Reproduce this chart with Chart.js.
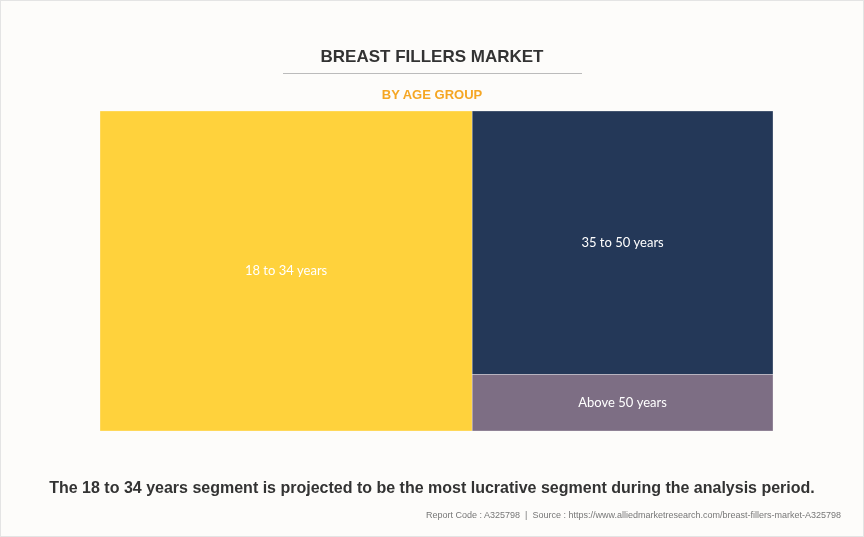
<!DOCTYPE html>
<html><head><meta charset="utf-8">
<script src="https://cdn.jsdelivr.net/npm/chart.js@4"></script>
<style>
html,body{margin:0;padding:0;background:#fff;}
#wrap{position:relative;width:862px;height:535px;border:1px solid #e4e4e4;background:#fdfcfa;overflow:hidden;font-family:"Liberation Sans",Arial,sans-serif;}
#c{position:absolute;left:0;top:0;}
.t{position:absolute;width:100%;text-align:center;}
</style></head><body>
<div id="wrap">
<canvas id="c" width="864" height="537"></canvas>
<div class="t" style="top:46px;font-size:17px;font-weight:bold;color:#333;">BREAST FILLERS MARKET</div>
<div style="position:absolute;left:282px;top:72px;width:299px;height:1px;background:#bbb;"></div>
<div class="t" style="top:86px;font-size:13px;font-weight:bold;color:#f5a623;">BY AGE GROUP</div>
<div class="t" style="top:478px;font-size:16px;font-weight:bold;color:#333;">The 18 to 34 years segment is projected to be the most lucrative segment during the analysis period.</div>
<div style="position:absolute;right:22px;top:509px;font-size:9px;color:#777;">Report Code : A325798 &nbsp;|&nbsp; Source : https://www.alliedmarketresearch.com/breast-fillers-market-A325798</div>
</div>
<script>
const categories = ["18 to 34 years", "35 to 50 years", "Above 50 years"];
const shares = [55.3, 36.8, 7.9];
const colors = ["#FFD23C", "#243858", "#7D6E84"];

function layout(){
  const total = shares.reduce((a,b)=>a+b,0);
  const w0 = shares[0]/total*100;
  const rest = total - shares[0];
  const h1 = shares[1]/rest*100;
  return [
    {x0:0,x1:w0,y0:0,y1:100},
    {x0:w0,x1:100,y0:100-h1,y1:100},
    {x0:w0,x1:100,y0:0,y1:100-h1}
  ];
}
const treemap = {
  id:'treemap',
  afterDatasetsDraw(chart){
    const {ctx, scales:{x,y}} = chart;
    layout().forEach((r,i)=>{
      const px0=x.getPixelForValue(r.x0), px1=x.getPixelForValue(r.x1);
      const py0=y.getPixelForValue(r.y1), py1=y.getPixelForValue(r.y0);
      ctx.save();
      ctx.fillStyle=colors[i];
      ctx.fillRect(px0,py0,px1-px0,py1-py0);
      ctx.strokeStyle='rgba(255,255,255,0.6)';ctx.lineWidth=0.5;
      ctx.strokeRect(px0,py0,px1-px0,py1-py0);
      ctx.fillStyle='#fff';ctx.font='13px Lato, "Noto Sans", sans-serif';
      ctx.textAlign='center';ctx.textBaseline='middle';
      ctx.fillText(categories[i],(px0+px1)/2,(py0+py1)/2);
      ctx.restore();
    });
  }
};
new Chart(document.getElementById('c'),{
  type:'scatter',
  data:{datasets:[{data:[],pointRadius:0}]},
  options:{
    responsive:false,animation:false,
    layout:{padding:{left:99,right:92,top:110,bottom:107}},
    plugins:{legend:{display:false},tooltip:{enabled:false}},
    scales:{x:{type:'linear',min:0,max:100,display:false},y:{type:'linear',min:0,max:100,display:false}}
  },
  plugins:[treemap]
});
</script>
</body></html>
